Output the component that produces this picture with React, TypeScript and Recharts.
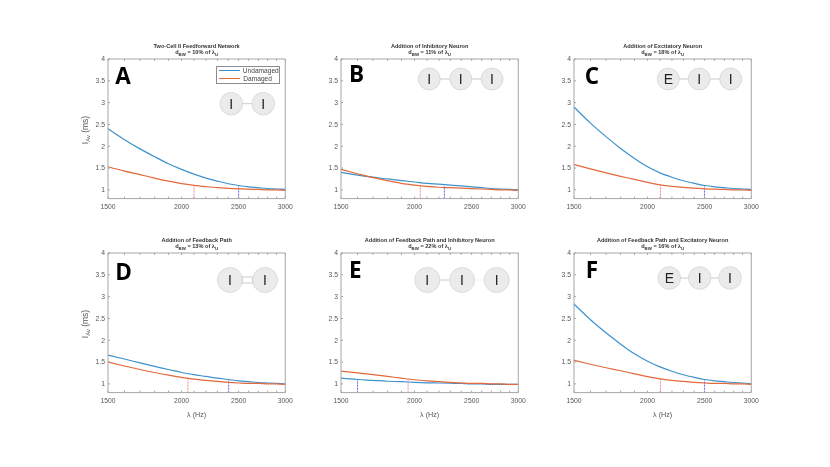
import React from "react";
import { LineChart, Line, XAxis, YAxis, ReferenceLine, Legend } from "recharts";

const freqs = [1500, 1600, 1700, 1800, 1900, 2000, 2100, 2200, 2300, 2400, 2500, 2600, 2700, 2800, 2900, 3000];
const xLabelled = [1500, 2000, 2500, 3000];
const yTicks = [1, 1.5, 2, 2.5, 3, 3.5, 4];

const blueA = [2.4, 2.15, 1.94, 1.76, 1.6, 1.47, 1.36, 1.27, 1.2, 1.14, 1.1, 1.07, 1.05, 1.03, 1.02, 1.01];
const redA = [1.53, 1.43, 1.35, 1.27, 1.2, 1.145, 1.105, 1.075, 1.05, 1.035, 1.025, 1.015, 1.01, 1.0, 1.0, 0.99];
const blueB = [1.4, 1.34, 1.29, 1.25, 1.21, 1.18, 1.15, 1.13, 1.11, 1.09, 1.07, 1.05, 1.03, 1.02, 1.01, 1.0];
const redB = [1.47, 1.37, 1.28, 1.21, 1.15, 1.11, 1.08, 1.06, 1.05, 1.04, 1.03, 1.02, 1.01, 1.0, 1.0, 0.99];
const blueC = [2.9, 2.53, 2.22, 1.95, 1.72, 1.53, 1.39, 1.29, 1.21, 1.15, 1.1, 1.07, 1.05, 1.03, 1.02, 1.01];
const redC = [1.58, 1.48, 1.39, 1.31, 1.24, 1.17, 1.115, 1.08, 1.055, 1.04, 1.025, 1.015, 1.01, 1.0, 1.0, 0.99];
const blueD = [1.66, 1.57, 1.48, 1.4, 1.33, 1.26, 1.21, 1.17, 1.13, 1.1, 1.07, 1.05, 1.03, 1.02, 1.01, 1.0];
const redD = [1.5, 1.41, 1.33, 1.26, 1.2, 1.15, 1.11, 1.08, 1.055, 1.035, 1.02, 1.01, 1.01, 1.0, 1.0, 0.99];
const blueE = [1.13, 1.1, 1.08, 1.06, 1.05, 1.035, 1.025, 1.02, 1.015, 1.01, 1.0, 1.0, 0.99, 0.99, 0.99, 0.99];
const redE = [1.29, 1.25, 1.21, 1.17, 1.13, 1.095, 1.07, 1.05, 1.035, 1.02, 1.01, 1.01, 1.0, 1.0, 0.99, 0.99];
const blueF = [2.83, 2.47, 2.17, 1.91, 1.69, 1.52, 1.39, 1.29, 1.21, 1.15, 1.1, 1.07, 1.05, 1.03, 1.02, 1.0];
const redF = [1.54, 1.45, 1.37, 1.3, 1.23, 1.165, 1.115, 1.08, 1.055, 1.035, 1.02, 1.01, 1.01, 1.0, 1.0, 0.99];

const titles = [
  "Two-Cell II Feedforward Network",
  "Addition of Inhibitory Neuron",
  "Addition of Excitatory Neuron",
  "Addition of Feedback Path",
  "Addition of Feedback Path and Inhibitory Neuron",
  "Addition of Feedback Path and Excitatory Neuron",
];
const percents = ["10%", "11%", "18%", "13%", "22%", "16%"];
const letters = ["A", "B", "C", "D", "E", "F"];

const dashBlueX = [2500, 2247, 2498, 2404, 1600, 2498];
const dashBlueY = [1.1, 1.09, 1.1, 1.09, 1.1, 1.1];
const dashRedX = [2100, 2045, 2104, 2050, 1950, 2104];
const dashRedY = [1.105, 1.09, 1.115, 1.1, 1.1, 1.115];

const BLUE = "#3c92cc";
const RED = "#e2693c";
const AXIS = "#a6a6a6";
const TEXT = "#555";
const FONT = "'Liberation Sans', Arial, sans-serif";

const plotW = 177.3;
const plotH = 139.6;
const mL = 40;
const mT = 26;
const mB = 32;
const mR = 12;

const panels = [
  { key: 0, px: 107.7, py: 59.4, blue: blueA, red: redA, lx: 115, ly: 84.5 },
  { key: 1, px: 341, py: 59.4, blue: blueB, red: redB, lx: 349, ly: 82.5 },
  { key: 2, px: 574.3, py: 59.4, blue: blueC, red: redC, lx: 585, ly: 84 },
  { key: 3, px: 107.7, py: 253.3, blue: blueD, red: redD, lx: 115, ly: 280.7 },
  { key: 4, px: 341, py: 253.3, blue: blueE, red: redE, lx: 349, ly: 278 },
  { key: 5, px: 574.3, py: 253.3, blue: blueF, red: redF, lx: 586, ly: 278 },
];

const diagrams = [
  { cy: 103.7, r: 11.3, labels: ["I", "I"], xs: [231.3, 263.3] },
  { cy: 79, r: 11, labels: ["I", "I", "I"], xs: [429.3, 460.7, 492] },
  { cy: 79, r: 11, labels: ["E", "I", "I"], xs: [668.3, 699.3, 730.7] },
  { cy: 280, r: 12.5, labels: ["I", "I"], xs: [230, 265], double: true },
  { cy: 280, r: 12.5, labels: ["I", "I", "I"], xs: [427.3, 462, 496.7] },
  { cy: 278, r: 11.3, labels: ["E", "I", "I"], xs: [669.3, 699.7, 730] },
];

function LegendBox({ payload }: any) {
  return (
    <div
      style={{
        width: 63.5,
        height: 18,
        border: "1px solid #8c8c8c",
        background: "#fff",
        fontFamily: FONT,
        fontSize: 6.6,
        color: "#444",
        boxSizing: "border-box",
        padding: "0 0 0 2px",
        lineHeight: "8px",
      }}
    >
      {(payload || []).map((e: any) => (
        <div key={e.value} style={{ display: "flex", alignItems: "center" }}>
          <span style={{ width: 21, height: 1.5, background: e.color, marginRight: 3, display: "inline-block" }} />
          <span>{e.value}</span>
        </div>
      ))}
    </div>
  );
}

function Panel({ p }: { p: (typeof panels)[number] }) {
  const i = p.key;
  const data = freqs.map((f, k) => ({ f, Undamaged: p.blue[k], Damaged: p.red[k] }));
  const cx = mL + plotW / 2;
  const bottomRow = i >= 3;
  const leftCol = i % 3 === 0;
  const xTick = (v: number) => (xLabelled.includes(v) ? String(v) : "");
  const tickStyle = { fontSize: 6.8, fill: TEXT, fontFamily: FONT };
  return (
    <div style={{ position: "absolute", left: p.px - mL, top: p.py - mT, willChange: "transform" }}>
      <LineChart
        width={plotW + mL + mR}
        height={plotH + mT + mB}
        data={data}
        margin={{ left: mL - 1, top: mT - 1, right: mR - 1, bottom: mB - 1 }}
      >
        <XAxis
          xAxisId="b"
          dataKey="f"
          type="number"
          scale="log"
          domain={[1500, 3000]}
          ticks={freqs}
          interval={0}
          height={1}
          tickSize={-2}
          tickMargin={8}
          tickFormatter={xTick}
          tick={tickStyle}
          tickLine={{ stroke: AXIS }}
          axisLine={{ stroke: AXIS }}
        />
        <XAxis
          xAxisId="t"
          orientation="top"
          dataKey="f"
          type="number"
          scale="log"
          domain={[1500, 3000]}
          ticks={freqs}
          interval={0}
          height={1}
          tickSize={-2}
          tickFormatter={() => ""}
          tickLine={{ stroke: AXIS }}
          axisLine={{ stroke: AXIS }}
        />
        <YAxis
          yAxisId="l"
          type="number"
          domain={[0.8, 4]}
          ticks={yTicks}
          interval={0}
          width={1}
          tickSize={-2}
          tickMargin={5}
          tick={tickStyle}
          tickLine={{ stroke: AXIS }}
          axisLine={{ stroke: AXIS }}
        />
        <YAxis
          yAxisId="r"
          orientation="right"
          type="number"
          domain={[0.8, 4]}
          ticks={yTicks}
          interval={0}
          width={1}
          tickSize={-2}
          tickFormatter={() => ""}
          tickLine={{ stroke: AXIS }}
          axisLine={{ stroke: AXIS }}
        />
        <ReferenceLine
          xAxisId="b"
          yAxisId="l"
          ifOverflow="visible"
          segment={[{ x: dashRedX[i], y: 0.8 }, { x: dashRedX[i], y: dashRedY[i] }]}
          stroke="#f28b8b"
          strokeDasharray="2 1"
        />
        <ReferenceLine
          xAxisId="b"
          yAxisId="l"
          ifOverflow="visible"
          segment={[{ x: dashBlueX[i], y: 0.8 }, { x: dashBlueX[i], y: dashBlueY[i] }]}
          stroke="#5f5ff0"
          strokeDasharray="2 1"
        />
        <Line xAxisId="b" yAxisId="l" dataKey="Undamaged" stroke={BLUE} strokeWidth={1.2} dot={false} type="monotone" isAnimationActive={false} />
        <Line xAxisId="b" yAxisId="l" dataKey="Damaged" stroke={RED} strokeWidth={1.2} dot={false} type="monotone" isAnimationActive={false} />
        {i === 0 && (
          <Legend
            layout="vertical"
            align="center"
            verticalAlign="middle"
            itemSorter={null as any}
            content={<LegendBox />}
            wrapperStyle={{ left: 216 - p.px + mL, top: 66 - p.py + mT, width: 63.5, height: 18 }}
          />
        )}
        <text x={cx} y={mT - 11} textAnchor="middle" fontFamily={FONT} fontSize={5.6} fontWeight="bold" fill="#333">
          {titles[i]}
        </text>
        <text x={cx} y={mT - 4.5} textAnchor="middle" fontFamily={FONT} fontSize={5.6} fontWeight="bold" fill="#333">
          d
          <tspan fontSize={4.4} dy={1.5}>BW</tspan>
          <tspan dy={-1.5}> = {percents[i]} of λ</tspan>
          <tspan fontSize={4.4} dy={1.5}>U</tspan>
        </text>
        {leftCol && (
          <text
            transform={`translate(${mL - 20},${mT + 71}) rotate(-90)`}
            textAnchor="middle"
            fontFamily={FONT}
            fontSize={8.5}
            fill={TEXT}
          >
            I
            <tspan fontSize={5.8} dy={2}>Av</tspan>
            <tspan dy={-2}> (ms)</tspan>
          </text>
        )}
        {bottomRow && (
          <text x={cx} y={mT + plotH + 24} textAnchor="middle" fontFamily={FONT} fontSize={7.2} fill={TEXT}>
            λ (Hz)
          </text>
        )}
        <text x={p.lx - p.px + mL} y={p.ly - p.py + mT} fontFamily="'Open Sans', sans-serif" fontWeight="bold" fontSize={22.5} fill="#000">
          {letters[i]}
        </text>
      </LineChart>
    </div>
  );
}

function Diagrams() {
  return (
    <svg width={830} height={467} style={{ position: "absolute", left: 0, top: 0, pointerEvents: "none", willChange: "transform" }}>
      {diagrams.map((d, n) => (
        <g key={n}>
          {d.xs.slice(1).map((x, k) =>
            d.double ? (
              <rect key={k} x={d.xs[k] + d.r} y={d.cy - 3} width={x - d.xs[k] - 2 * d.r} height={6} fill="#fff" stroke="#bdbdbd" strokeWidth={0.8} />
            ) : (
              <line key={k} x1={d.xs[k] + d.r} x2={x - d.r} y1={d.cy} y2={d.cy} stroke={n === 4 && k === 1 ? "#eeeeee" : "#bdbdbd"} strokeWidth={0.8} />
            )
          )}
          {d.xs.map((x, k) => (
            <g key={k}>
              <circle cx={x} cy={d.cy} r={d.r} fill="#ebebeb" stroke="#d0d0d0" strokeWidth={0.7} />
              <text x={x} y={d.cy + 5} textAnchor="middle" fontFamily={FONT} fontSize={14} fill="#222">
                {d.labels[k]}
              </text>
            </g>
          ))}
        </g>
      ))}
    </svg>
  );
}

export default function App() {
  return (
    <div style={{ position: "absolute", left: 0, top: 0, width: 830, height: 467, background: "#fff", overflow: "hidden" }}>
      {panels.map((p) => (
        <Panel key={p.key} p={p} />
      ))}
      <Diagrams />
    </div>
  );
}
